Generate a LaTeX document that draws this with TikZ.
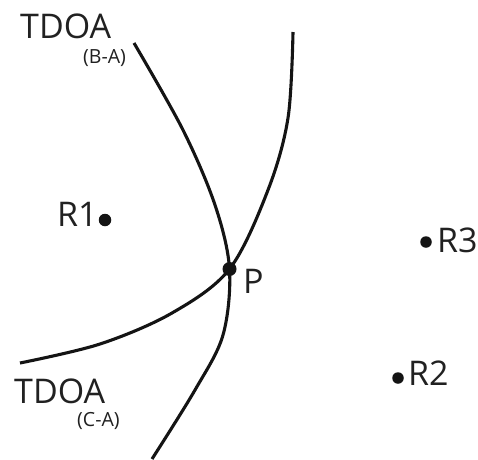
\documentclass[tikz,border=0pt]{standalone}
\usepackage{fontspec}
\setmainfont{Open Sans}
\begin{document}
\begin{tikzpicture}[x=1pt,y=-1pt,
  curve/.style={line width=3.1pt, color=black!92},
  lbl/.style={inner sep=0pt, anchor=base west, text=black!87, font=\fontsize{34}{39}\selectfont},
  sub/.style={inner sep=0pt, anchor=base west, text=black!87, font=\fontsize{19.5}{23}\selectfont},
  dot/.style={circle, fill=black!92, inner sep=0pt}]
\useasboundingbox (0,0) rectangle (478,459);
% hyperbola B-A
\draw[curve] plot[smooth, tension=0.55] coordinates {(134,43) (183,130) (215,205) (229.5,269) (223,335) (195,390) (152,459)};
% hyperbola C-A
\draw[curve] plot[smooth, tension=0.55] coordinates {(293,32) (288,118) (268,190) (229.5,269) (172,313) (100,344) (20,363)};
% points
\node[dot, minimum size=12.5pt] (r1) at (105,220) {};
\node[dot, minimum size=11.5pt] (r3) at (426,242) {};
\node[dot, minimum size=11.5pt] (r2) at (398,378) {};
\node[dot, minimum size=14pt] (p) at (229.5,269) {};
% labels
\node[lbl] (t1) at (20,38) {TDOA};
\node[sub] (s1) at (83,63) {(B-A)};
\node[lbl] (t2) at (14,403) {TDOA};
\node[sub] (s2) at (77,426) {(C-A)};
\node[lbl] (lr1) at (57,226) {R1};
\node[lbl] (lr3) at (437,252) {R3};
\node[lbl] (lr2) at (408,385) {R2};
\node[lbl] (lp) at (243,293) {P};
\end{tikzpicture}
\end{document}
